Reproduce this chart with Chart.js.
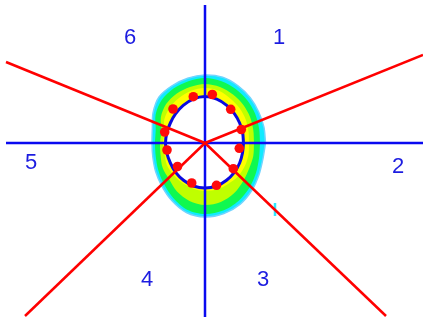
<!DOCTYPE html>
<html>
<head>
<meta charset="utf-8">
<script src="https://cdn.jsdelivr.net/npm/chart.js@4.4.0/dist/chart.umd.min.js"></script>
<style>
  body { margin: 0; background: #fff; }
  #wrap { width: 423px; height: 322px; }
</style>
</head>
<body>
<div id="wrap"><canvas id="ringChart" width="423" height="322"></canvas></div>
<script>
// ring edges, read as radius from the centre every 15 deg (counter-clockwise from +x)
const ringAngles = [0, 15, 30, 45, 60, 75, 90, 105, 120, 135, 150, 165, 180, 195, 210, 225, 240, 255, 270, 285, 300, 315, 330, 345];
const ellipseR = [38.5, 39, 40, 41.5, 43.5, 45.5, 46.5, 45.5, 43.5, 41.5, 40, 39.5, 39.5, 39.5, 40, 41.5, 43, 44.5, 45, 44.5, 43, 41.5, 40, 38.8];
const yellowR  = [44, 45, 47, 49, 51, 54, 55, 54, 52, 50, 47, 42, 42, 42, 44, 45, 46, 47, 48, 48, 47, 47, 46, 45];
const limeR    = [49, 50, 52, 54, 56, 58, 59, 58, 57, 55, 51, 45, 45, 46, 49, 51, 56, 60, 62, 61, 58, 54, 51, 50];
const greenR   = [55, 56, 58, 60, 62, 64, 65, 64, 63, 61, 57, 51, 50, 51, 54, 58, 63.5, 69, 71, 70, 67, 63, 59, 56];
const cyanR    = [60.5, 61, 62, 64, 66, 68, 68, 67, 66, 65, 60, 54.5, 53, 54, 57, 61, 66.5, 72, 74, 73, 70.5, 66.5, 62.5, 60];

// fitted points on the ring
const dotX = [7.3, -11.7, -32, 25.7, -40.3, 36.3, -38, 34.3, -27.5, 28.3, -13.3, 11.5];
const dotY = [48.5, 46.3, 34, 33.7, 11, 13.5, -7, -5.3, -23.5, -25.7, -40, -42.3];

// sector borders (rays from centre)
const rayEndX = [218, -199, -180, 181];
const rayEndY = [88, 81, -173, -173];

// sector numbers
const sectorNames = ['1', '2', '3', '4', '5', '6'];
const sectorX = [74, 193, 58, -58, -174, -75];
const sectorY = [105, -24, -137, -137, -20, 105];

function ring(radii) {
    const pts = radii.map((r, i) => {
        const a = ringAngles[i] * Math.PI / 180;
        return { x: r * Math.cos(a), y: r * Math.sin(a) };
    });
    pts.push(pts[0]);
    return pts;
}

function band(radii, colour, order, edge) {
    return {
        data: ring(radii),
        backgroundColor: colour,
        borderColor: edge || colour,
        borderWidth: edge ? 1.5 : 0,
        fill: 'shape',
        tension: 0.3,
        pointRadius: 0,
        order: order
    };
}

function seg(x1, y1, x2, y2, colour, width, order) {
    return {
        data: [{ x: x1, y: y1 }, { x: x2, y: y2 }],
        borderColor: colour,
        borderWidth: width,
        pointRadius: 0,
        fill: false,
        order: order
    };
}

const datasets = [];
datasets.push({
    data: dotX.map((x, i) => ({ x: x, y: dotY[i] })),
    showLine: false,
    pointRadius: 4.8,
    pointBackgroundColor: '#ff0a0a',
    pointBorderWidth: 0,
    order: 0
});
rayEndX.forEach((x, i) => datasets.push(seg(0, 0, x, rayEndY[i], '#ff0000', 2.5, 2)));
datasets.push(seg(0, 138, 0, -174, '#0a0af0', 2.5, 3));
datasets.push(seg(-199, 0, 218, 0, '#0a0af0', 2.5, 3));
datasets.push(seg(70, -60, 70, -73, '#30e8ff', 2.5, 4));
datasets.push({
    data: ring(ellipseR),
    backgroundColor: '#ffffff',
    borderColor: '#0a0ae0',
    borderWidth: 3,
    fill: 'shape',
    tension: 0.3,
    pointRadius: 0,
    order: 5
});
datasets.push(band(yellowR, '#ffff00', 6));
datasets.push(band(limeR, '#bfff00', 7));
datasets.push(band(greenR, '#10f850', 8));
datasets.push(band(cyanR, '#10eaff', 9, '#70d4ff'));

const sectorLabels = {
    id: 'sectorLabels',
    afterDatasetsDraw(chart) {
        const { ctx, scales: { x, y } } = chart;
        ctx.save();
        ctx.font = '22px "Liberation Sans", Arial, sans-serif';
        ctx.fillStyle = '#1c1ce0';
        ctx.textAlign = 'center';
        ctx.textBaseline = 'middle';
        sectorNames.forEach((t, i) => {
            ctx.fillText(t, x.getPixelForValue(sectorX[i]), y.getPixelForValue(sectorY[i]));
        });
        ctx.restore();
    }
};

new Chart(document.getElementById('ringChart'), {
    type: 'line',
    data: { datasets: datasets },
    options: {
        responsive: false,
        animation: false,
        events: [],
        layout: { padding: 0, autoPadding: false },
        plugins: { legend: { display: false }, tooltip: { enabled: false } },
        scales: {
            x: { type: 'linear', display: false, min: -205, max: 218 },
            y: { type: 'linear', display: false, min: -179, max: 143 }
        }
    },
    plugins: [sectorLabels]
});
</script>
</body>
</html>
